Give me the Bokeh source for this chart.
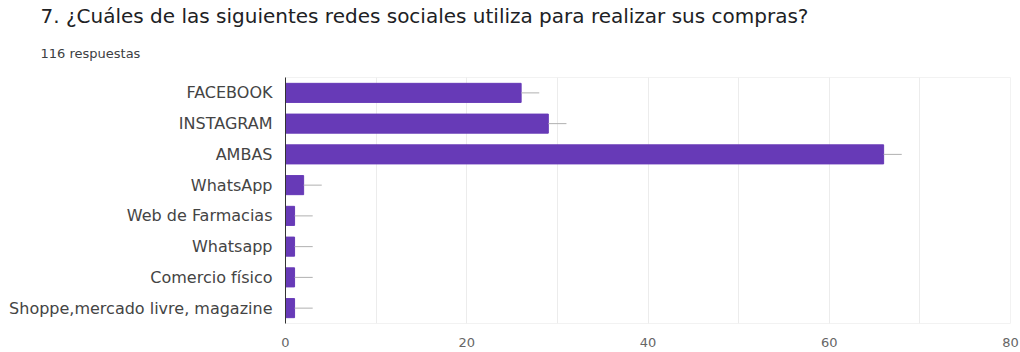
from bokeh.plotting import figure
from bokeh.models import Title, FactorRange, Range1d, FixedTicker, ColumnDataSource
from bokeh.embed import file_html
from bokeh.resources import INLINE

categories = ["FACEBOOK", "INSTAGRAM", "AMBAS", "WhatsApp", "Web de Farmacias",
              "Whatsapp", "Comercio físico", "Shoppe,mercado livre, magazine"]
counts = [26, 29, 66, 2, 1, 1, 1, 1]
x_ticks = [0, 20, 40, 60, 80]
title_text = "7.  ¿Cuáles de las siguientes redes sociales utiliza para realizar sus compras?"
subtitle_text = "116 respuestas"
whisker = 2

src = ColumnDataSource(dict(cat=categories, val=counts,
                            wend=[v + whisker for v in counts]))

p = figure(width=1020, height=352, output_backend="svg", toolbar_location=None,
           y_range=FactorRange(*reversed(categories), range_padding=0),
           x_range=Range1d(0, 80),
           min_border_left=285, min_border_right=10, min_border_top=77,
           min_border_bottom=29)
p.frame_width = 1020 - 285 - 10
p.frame_height = 352 - 77 - 29
p.title = None

p.hbar(y="cat", right="val", height=0.62, source=src, color="#673ab7")
p.segment(x0="val", x1="wend", y0="cat", y1="cat", source=src,
          line_color="#b0b0b0", line_width=1)

p.outline_line_color = "#f2f2f2"
p.ygrid.grid_line_color = None
p.xgrid.grid_line_color = "#ececec"
p.xgrid.minor_grid_line_color = "#ececec"
p.xaxis.ticker = FixedTicker(ticks=x_ticks, minor_ticks=list(range(0, 81, 10)))
p.xaxis.axis_line_color = None
p.xaxis.major_tick_line_color = None
p.xaxis.minor_tick_line_color = None
p.xaxis.major_label_text_font = "DejaVu Sans"
p.xaxis.major_label_text_font_size = "13px"
p.xaxis.major_label_text_color = "#666666"
p.xaxis.major_label_standoff = 8

p.yaxis.axis_line_color = "#333333"
p.yaxis.major_tick_line_color = None
p.yaxis.minor_tick_line_color = None
p.yaxis.major_label_text_font = "DejaVu Sans"
p.yaxis.major_label_text_font_size = "16px"
p.yaxis.major_label_text_color = "#444444"
p.yaxis.major_label_standoff = 7

p.add_layout(Title(text=subtitle_text, align="left", offset=-245, standoff=33,
                   text_font="DejaVu Sans", text_font_size="13px",
                   text_font_style="normal", text_color="#3c4043"), "above")
p.add_layout(Title(text=title_text, align="left", offset=-245, standoff=0,
                   text_font="DejaVu Sans", text_font_size="20px",
                   text_font_style="normal", text_color="#202124"), "above")

open("out.html", "w").write(file_html(p, INLINE))
